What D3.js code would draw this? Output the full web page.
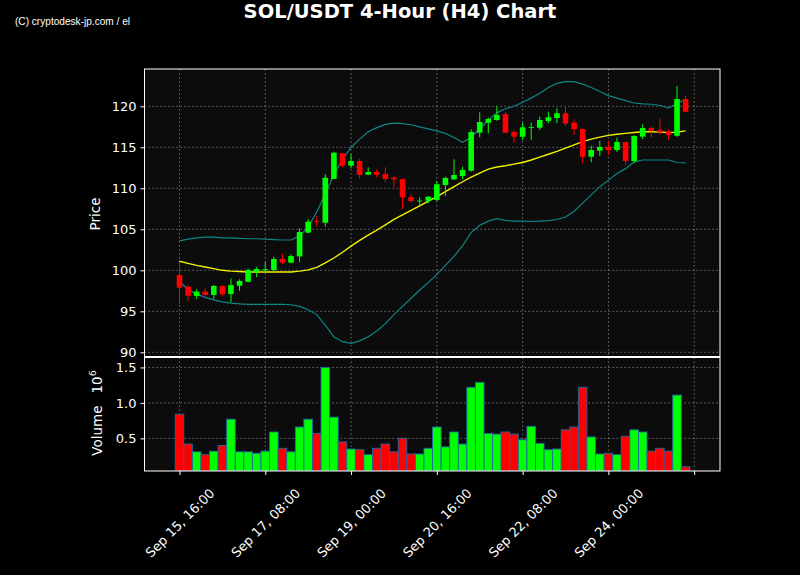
<!DOCTYPE html>
<html><head><meta charset="utf-8">
<script src="https://cdn.jsdelivr.net/npm/d3@7"></script>
<style>html,body{margin:0;padding:0;background:#000;}svg{display:block;}</style>
</head><body>
<svg id="chart" width="800" height="575"></svg>
<script>
const opens = [99.43,98.0,96.87,97.4,97.0,98.1,97.1,98.12,98.6,99.83,100.0,100.04,101.38,100.93,101.7,104.6,106.0,105.8,111.13,114.27,112.76,113.33,111.66,112.0,111.74,111.3,111.13,108.94,108.45,108.49,108.57,110.4,111.1,111.5,112.15,116.78,118.0,118.33,119.06,116.87,116.29,117.4,117.39,118.21,118.57,119.15,118.0,117.23,113.85,114.59,115.04,114.67,115.65,113.33,116.3,117.35,117.1,116.9,116.41,120.89];
const closes = [97.88,96.9,97.4,97.0,98.1,97.1,98.2,98.7,100.04,100.16,100.15,101.38,100.93,101.74,104.67,105.93,105.9,111.29,114.34,112.76,113.33,111.62,111.99,111.66,111.13,111.1,108.9,108.45,108.5,108.98,110.49,111.26,111.62,112.23,116.87,118.09,118.45,118.94,116.78,116.29,117.44,117.45,118.33,118.66,119.15,117.88,117.2,113.85,114.67,115.04,114.67,115.65,113.33,116.38,117.35,117.02,116.83,116.5,120.89,119.34];
const highs = [100.9,98.2,97.68,97.8,98.2,98.15,99.0,98.9,100.24,100.44,101.0,101.66,102.07,101.95,105.12,106.26,106.66,111.71,114.46,114.3,114.18,113.57,112.56,112.32,112.56,111.5,111.13,109.27,108.9,109.06,110.89,111.41,113.54,112.63,117.2,119.27,118.61,120.04,119.34,117.11,118.0,118.0,118.73,119.34,119.76,119.88,118.41,117.32,115.2,115.77,115.77,116.17,115.68,116.5,117.8,117.51,118.54,117.2,122.48,121.26];
const lows = [95.9,96.26,96.5,96.9,96.5,96.8,96.1,97.5,98.54,99.15,99.8,99.83,100.73,100.85,100.98,104.51,105.32,105.32,111.13,112.56,112.44,111.22,111.62,111.34,110.73,110.12,107.48,108.24,107.96,108.17,108.45,109.06,111.01,111.1,112.02,116.22,116.71,118.24,116.78,115.61,115.89,115.9,117.11,117.93,117.93,117.6,116.5,113.05,113.17,113.94,114.06,114.46,112.84,113.12,115.98,116.22,116.5,115.89,116.29,119.34];
const volumes = [0.84,0.42,0.31,0.27,0.32,0.40,0.77,0.31,0.31,0.29,0.32,0.59,0.36,0.31,0.66,0.77,0.57,1.50,0.80,0.45,0.35,0.34,0.27,0.36,0.42,0.31,0.50,0.28,0.28,0.36,0.66,0.38,0.59,0.42,1.22,1.29,0.57,0.56,0.59,0.56,0.48,0.67,0.43,0.34,0.35,0.62,0.66,1.22,0.52,0.28,0.29,0.27,0.53,0.62,0.59,0.32,0.36,0.32,1.11,0.10];
const smaMid = [101.1,100.85,100.6,100.4,100.2,100.0,99.9,99.85,99.8,99.8,99.8,99.8,99.8,99.8,99.9,100.05,100.35,100.9,101.5,102.2,102.95,103.65,104.3,104.9,105.55,106.2,106.75,107.3,107.85,108.45,109.0,109.6,110.2,110.8,111.35,111.85,112.35,112.6,112.75,112.95,113.15,113.45,113.8,114.15,114.5,114.9,115.3,115.7,116.0,116.25,116.45,116.6,116.7,116.8,116.9,116.9,116.85,116.8,116.85,117.0];
const bandUpper = [103.6,103.8,103.95,104.05,104.05,103.95,103.95,103.9,103.85,103.85,103.8,103.75,103.7,103.7,104.2,105.3,107.1,109.3,111.7,113.5,115.0,116.0,116.9,117.4,117.8,117.95,117.9,117.75,117.5,117.25,117.0,116.7,116.2,115.6,116.2,117.3,118.3,119.2,119.7,120.0,120.5,121.0,121.6,122.3,122.8,123.0,123.0,122.7,122.3,121.8,121.3,121.0,120.7,120.4,120.3,120.25,120.1,119.8,120.35,120.85];
const bandLower = [98.6,97.7,97.1,96.7,96.4,96.15,96.0,95.9,95.85,95.85,95.85,95.85,95.85,95.8,95.6,95.2,94.6,93.3,91.9,91.3,91.1,91.4,91.9,92.6,93.5,94.6,95.6,96.6,97.6,98.5,99.5,100.6,101.7,103.0,104.6,105.5,106.0,106.3,106.1,106.0,106.0,105.95,106.0,106.05,106.2,106.5,107.2,108.2,109.2,110.2,111.0,111.8,112.4,113.2,113.45,113.45,113.45,113.45,113.15,113.1];
const xTickIdx = [0,10,20,30,40,50,60];
const xTickLabels = ["Sep 15, 16:00","Sep 17, 08:00","Sep 19, 00:00","Sep 20, 16:00","Sep 22, 08:00","Sep 24, 00:00",""];
const priceTicks = [90,95,100,105,110,115,120];
const volTicks = [0.5,1.0,1.5];

const svg = d3.select("#chart");
const L = 144.5, R = 720;
const pTop = 69, pBot = 356.5, vTop = 357.5, vBot = 471;
const UP = "#00ff00", DOWN = "#ff0000";

const x = d3.scaleLinear().domain([-4.08, 63.01]).range([L, R]);
const y = d3.scaleLinear().domain([89.49, 124.55]).range([pBot, pTop]);
const yv = d3.scaleLinear().domain([0.04, 1.64]).range([vBot, vTop]);
const step = x(1) - x(0);

svg.append("rect").attr("width",800).attr("height",575).attr("fill","#000");
svg.append("rect").attr("x",L).attr("y",pTop).attr("width",R-L).attr("height",pBot-pTop).attr("fill","#0c0c0c");
svg.append("rect").attr("x",L).attr("y",vTop).attr("width",R-L).attr("height",vBot-vTop).attr("fill","#0c0c0c");

svg.append("clipPath").attr("id","cp").append("rect").attr("x",L).attr("y",pTop).attr("width",R-L).attr("height",pBot-pTop);
svg.append("clipPath").attr("id","cv").append("rect").attr("x",L).attr("y",vTop).attr("width",R-L).attr("height",vBot-vTop);

const gridStyle = g => g.attr("stroke","#a0a0a0").attr("stroke-opacity",0.75).attr("stroke-width",0.9).attr("stroke-dasharray","1.5,2.5");
const gp = svg.append("g").call(gridStyle);
priceTicks.forEach(t => gp.append("line").attr("x1",L).attr("x2",R).attr("y1",y(t)).attr("y2",y(t)));
xTickIdx.forEach(t => gp.append("line").attr("x1",x(t)).attr("x2",x(t)).attr("y1",pTop).attr("y2",pBot));
const gv = svg.append("g").call(gridStyle);
volTicks.forEach(t => gv.append("line").attr("x1",L).attr("x2",R).attr("y1",yv(t)).attr("y2",yv(t)));
xTickIdx.forEach(t => gv.append("line").attr("x1",x(t)).attr("x2",x(t)).attr("y1",vTop).attr("y2",vBot));

const idx = d3.range(opens.length);

const pg = svg.append("g").attr("clip-path","url(#cp)");
const lineOf = arr => d3.line().x((d,i)=>x(i)).y(d=>y(d))(arr);
pg.append("path").attr("d",lineOf(bandUpper)).attr("fill","none").attr("stroke","#0f8585").attr("stroke-width",1.2);
pg.append("path").attr("d",lineOf(bandLower)).attr("fill","none").attr("stroke","#0f8585").attr("stroke-width",1.2);
pg.append("path").attr("d",lineOf(smaMid)).attr("fill","none").attr("stroke","#f2f200").attr("stroke-width",1.4);

const bw = 5.6;
idx.forEach(i => {
  const c = closes[i] >= opens[i] ? UP : DOWN;
  pg.append("line").attr("x1",x(i)).attr("x2",x(i)).attr("y1",y(highs[i])).attr("y2",y(lows[i])).attr("stroke",c).attr("stroke-width",1);
  const top = y(Math.max(opens[i],closes[i])), bot = y(Math.min(opens[i],closes[i]));
  pg.append("rect").attr("x",x(i)-bw/2).attr("y",top).attr("width",bw).attr("height",Math.max(bot-top,0.8)).attr("fill",c);
});

const vg = svg.append("g").attr("clip-path","url(#cv)");
idx.forEach(i => {
  const c = closes[i] >= opens[i] ? UP : DOWN;
  vg.append("rect").attr("x",x(i)-step/2).attr("y",yv(volumes[i])).attr("width",step).attr("height",vBot-yv(volumes[i]))
    .attr("fill",c).attr("stroke","#1f6aa5").attr("stroke-width",0.9);
});

svg.append("rect").attr("x",L).attr("y",pTop).attr("width",R-L).attr("height",pBot-pTop).attr("fill","none").attr("stroke","#fff").attr("stroke-width",1);
svg.append("rect").attr("x",L).attr("y",vTop).attr("width",R-L).attr("height",vBot-vTop).attr("fill","none").attr("stroke","#fff").attr("stroke-width",1);

const font = "'DejaVu Sans', sans-serif";
const ay = d3.axisLeft(y).tickValues(priceTicks).tickSize(4).tickPadding(4).tickFormat(d3.format("d"));
const gay = svg.append("g").attr("transform",`translate(${L},0)`).call(ay);
const avy = d3.axisLeft(yv).tickValues(volTicks).tickSize(4).tickPadding(4).tickFormat(d3.format(".1f"));
const gavy = svg.append("g").attr("transform",`translate(${L},0)`).call(avy);
const ax = d3.axisBottom(x).tickValues(xTickIdx).tickSize(4).tickFormat((d,i)=>xTickLabels[i]);
const gax = svg.append("g").attr("transform",`translate(0,${vBot})`).call(ax);
[gay,gavy,gax].forEach(g=>{
  g.select(".domain").remove();
  g.selectAll(".tick line").attr("stroke","#fff").attr("stroke-width",1);
  g.selectAll(".tick text").attr("fill","#fff").attr("font-family",font).attr("font-size",13);
});
gax.selectAll(".tick text").attr("text-anchor","middle").attr("y",0).attr("dy","0.35em")
  .attr("transform","translate(0,52) rotate(-45)");

svg.append("text").attr("transform","translate(100,214) rotate(-90)").attr("text-anchor","middle")
  .attr("fill","#fff").attr("font-family",font).attr("font-size",13.5).text("Price");
const vl = svg.append("text").attr("transform","translate(102,413) rotate(-90)").attr("text-anchor","middle")
  .attr("fill","#fff").attr("font-family",font).attr("font-size",13.5);
vl.append("tspan").text("Volume");
vl.append("tspan").attr("dx",12).text("10");
vl.append("tspan").attr("dy",-6).attr("font-size",9.5).text("6");

svg.append("text").attr("x",400).attr("y",18).attr("text-anchor","middle").attr("fill","#fff")
  .attr("font-family",font).attr("font-weight","bold").attr("font-size",19.5).text("SOL/USDT 4-Hour (H4) Chart");
svg.append("text").attr("x",15).attr("y",25).attr("fill","#fff").attr("font-family","'Liberation Sans', Arial, sans-serif")
  .attr("font-size",11.5).attr("textLength",115).attr("lengthAdjust","spacingAndGlyphs").text("(C) cryptodesk-jp.com / el");
</script>
</body></html>
